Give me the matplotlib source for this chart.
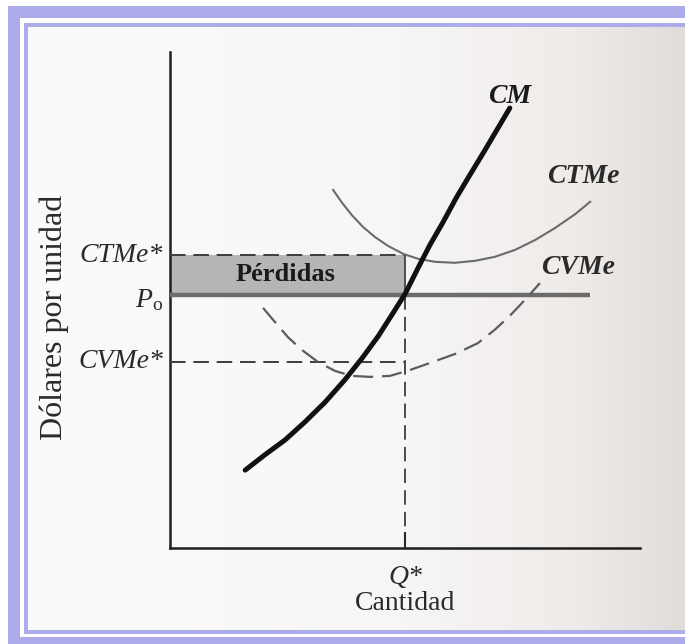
import numpy as np
import matplotlib
matplotlib.use("Agg")
import matplotlib.pyplot as plt
from matplotlib.patches import Rectangle
from matplotlib.colors import LinearSegmentedColormap

plt.rcParams['font.family'] = ['Liberation Serif', 'DejaVu Serif']
plt.rcParams['mathtext.fontset'] = 'custom'
plt.rcParams['mathtext.rm'] = 'Liberation Serif'
plt.rcParams['mathtext.it'] = 'Liberation Serif:italic'

# --- data (quantity 0-100, dollars per unit 0-100) ---
q_star = 50.0
p_o = 51.0
ctme_star = 59.0
cvme_star = 37.6

cm_q = [16.0, 20.2, 24.5, 28.7, 33.0, 37.2, 40.9, 44.3, 47.2, 50.0,
        52.8, 55.3, 58.1, 60.9, 63.8, 67.0, 69.8, 72.3]
cm_c = [15.7, 18.8, 21.8, 25.4, 29.4, 33.9, 38.3, 42.7, 47.0, 51.2,
        56.5, 61.1, 65.7, 70.6, 75.2, 80.2, 84.7, 88.7]

ctme_q = [34.7, 36.6, 38.7, 41.1, 43.6, 46.4, 49.6, 52.8, 56.4, 60.6,
          64.9, 69.1, 73.4, 77.7, 81.9, 86.2, 89.4]
ctme_c = [72.2, 69.6, 67.1, 64.7, 62.7, 60.9, 59.3, 58.3, 57.7, 57.5,
          57.9, 58.7, 60.1, 62.1, 64.5, 67.3, 69.8]

cvme_q = [19.8, 22.3, 25.1, 28.1, 31.5, 35.1, 38.7, 42.6, 46.8, 51.1,
          55.3, 60.6, 65.5, 69.1, 72.3, 75.5, 78.7]
cvme_c = [48.4, 45.6, 42.5, 39.9, 37.5, 35.7, 34.7, 34.5, 34.7, 35.9,
          37.3, 39.1, 41.3, 44.0, 46.8, 50.0, 53.4]

po_end = 89.4

W, H = 685, 644
fig = plt.figure(figsize=(W / 100, H / 100), dpi=100)
fig.patch.set_facecolor('white')


def px_rect(x0, y0, x1, y1, color):
    fig.add_artist(Rectangle((x0 / W, 1 - y1 / H), (x1 - x0) / W, (y1 - y0) / H,
                             transform=fig.transFigure, facecolor=color,
                             edgecolor='none', zorder=0))


# frame (lavender double border)
lav = '#acaceb'
px_rect(8, 6, W, H, lav)
px_rect(20, 18, W, 637, 'white')
px_rect(24, 23, W, 634, lav)

# scanned paper background
bg = fig.add_axes([28 / W, 1 - 630 / H, (W - 28) / W, (630 - 27) / H], zorder=1)
paper = LinearSegmentedColormap.from_list(
    'paper', ['#fbfafa', '#f7f5f5', '#efecea', '#e0dcda'])
grad = np.linspace(0, 1, 256) ** 2
bg.imshow(grad[None, :], aspect='auto', cmap=paper, extent=[0, 1, 0, 1])
bg.set_axis_off()

# chart axes
ax = fig.add_axes([170 / W, 1 - 548 / H, 470 / W, 496 / H], zorder=2)
ax.patch.set_alpha(0)
ax.set_xlim(0, 100)
ax.set_ylim(0, 100)
for s in ['top', 'right']:
    ax.spines[s].set_visible(False)
for s in ['left', 'bottom']:
    ax.spines[s].set_linewidth(1.8)
    ax.spines[s].set_color('#1e1e1e')
ax.set_xticks([])
ax.set_yticks([])

# losses rectangle
ax.fill_between([0, q_star], p_o, ctme_star, color='#b7b4b4', zorder=2, lw=0)
ax.plot([q_star, q_star], [p_o, ctme_star], color='#444444', lw=1.3, zorder=3)
ax.plot([0, q_star], [ctme_star, ctme_star], color='#3c3c3c', lw=1.4,
        dashes=(8, 4), zorder=3)
ax.plot([0, q_star], [cvme_star, cvme_star], color='#3c3c3c', lw=1.4,
        dashes=(8, 4), zorder=3)
ax.plot([q_star, q_star], [0, p_o], color='#3c3c3c', lw=1.3,
        dashes=(8, 4), zorder=3)
ax.plot([q_star, q_star], [0, 3], color='#2a2a2a', lw=1.5, zorder=3)

# price line
ax.plot([0, po_end], [p_o, p_o], color='#6c6c6c', lw=3.2,
        solid_capstyle='butt', zorder=4)

# cost curves
ax.plot(ctme_q, ctme_c, color='#6a6a6a', lw=1.5, zorder=4)
ax.plot(cvme_q, cvme_c, color='#5c5c5c', lw=1.6, dashes=(9, 4), zorder=4)
ax.plot(cm_q, cm_c, color='#111111', lw=3.6, solid_capstyle='round',
        solid_joinstyle='round', zorder=5)

# labels
fs = 20
ax.text(72.3, 91.0, 'CM', fontsize=fs, style='italic', weight='bold',
        ha='center', va='center', color='#1a1a1a')
ax.text(88.0, 74.8, 'CTMe', fontsize=fs, style='italic', weight='bold',
        ha='center', va='center', color='#2a2a2a')
ax.text(86.8, 56.5, 'CVMe', fontsize=fs, style='italic', weight='bold',
        ha='center', va='center', color='#2a2a2a')
ax.text(24.5, 55.2, 'Pérdidas', fontsize=19, weight='bold',
        ha='center', va='center', color='#1a1a1a')

ax.text(-1.5, ctme_star, 'CTMe*', fontsize=fs, style='italic',
        ha='right', va='center', color='#2a2a2a', clip_on=False)
ax.text(-1.5, p_o - 1.0, r'$P_{\mathrm{o}}$', fontsize=fs,
        ha='right', va='center', color='#2a2a2a', clip_on=False)
ax.text(-1.5, cvme_star, 'CVMe*', fontsize=fs, style='italic',
        ha='right', va='center', color='#2a2a2a', clip_on=False)

ax.text(q_star, -6.0, 'Q*', fontsize=fs, style='italic',
        ha='center', va='center', color='#2a2a2a', clip_on=False)
ax.text(q_star, -11.2, 'Cantidad', fontsize=fs,
        ha='center', va='center', color='#2a2a2a', clip_on=False)
ax.text(-24.6, 46.4, 'Dólares por unidad', fontsize=23, rotation=90,
        ha='center', va='center', color='#2a2a2a', clip_on=False)

fig.savefig('out.png', dpi=100)
